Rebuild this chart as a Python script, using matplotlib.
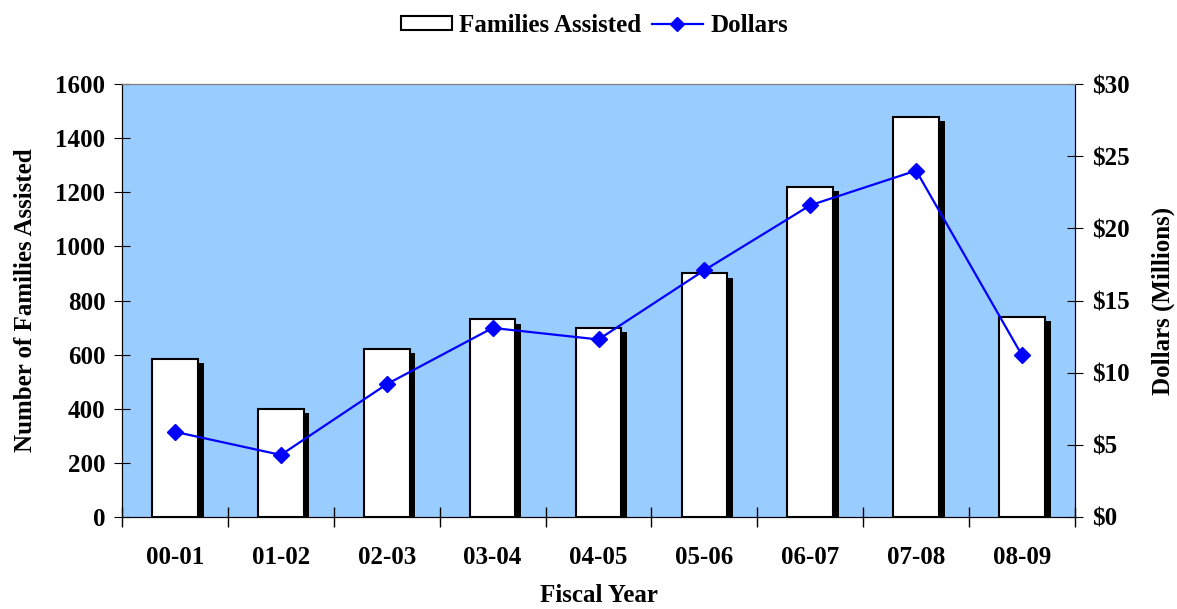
import numpy as np
import matplotlib.pyplot as plt
from matplotlib.lines import Line2D
from matplotlib.patches import Patch

years = ['00-01', '01-02', '02-03', '03-04', '04-05', '05-06', '06-07', '07-08', '08-09']
families = [585, 400, 620, 730, 700, 900, 1220, 1480, 740]
dollars = [5.9, 4.3, 9.2, 13.1, 12.3, 17.1, 21.6, 24.0, 11.2]

plt.rcParams['font.family'] = ['Liberation Serif', 'DejaVu Serif']
plt.rcParams['font.weight'] = 'bold'
fs = 18

fig = plt.figure(figsize=(11.77, 6.09), dpi=100)
ax = fig.add_axes([0.1037, 0.1511, 0.8096, 0.7109])
ax.set_facecolor('#99CCFF')

x = np.arange(len(years))
w = 0.43
# drop shadow behind each bar
ax.bar(x + 0.055, np.array(families) - 15, width=w, color='black', zorder=2)
ax.bar(x, families, width=w, color='white', edgecolor='black', linewidth=1.5, zorder=3)

ax.set_xlim(-0.5, len(years) - 0.5)
ax.set_ylim(0, 1600)
ax.set_yticks(range(0, 1601, 200))
ax.set_xticks(x)
ax.set_xticklabels(years)
ax.set_xticks(np.arange(-0.5, len(years)), minor=True)
ax.tick_params(axis='x', which='major', length=0, pad=21, labelsize=fs)
ax.tick_params(axis='x', which='minor', length=14, direction='inout', width=1)
ax.tick_params(axis='y', length=12, direction='inout', labelsize=fs, pad=6)
ax.set_xlabel('Fiscal Year', fontsize=fs, fontweight='bold', labelpad=11)
ax.set_ylabel('Number of Families Assisted', fontsize=fs, fontweight='bold', labelpad=13)
ax.spines['top'].set_color('#808080')

ax2 = ax.twinx()
ax2.plot(x, dollars, color='#0000FF', marker='D', markersize=8, linewidth=1.6, zorder=5)
ax2.set_ylim(0, 30)
ax2.set_yticks(range(0, 31, 5))
ax2.set_yticklabels(['$%d' % v for v in range(0, 31, 5)])
ax2.tick_params(axis='y', length=12, direction='inout', labelsize=fs, pad=6)
ax2.set_ylabel('Dollars (Millions)', fontsize=fs, fontweight='bold', labelpad=16)
ax2.spines['top'].set_color('#808080')

handles = [Patch(facecolor='white', edgecolor='black', linewidth=1.5),
           Line2D([], [], color='#0000FF', marker='D', markersize=7, linewidth=1.6)]
fig.legend(handles, ['Families Assisted', 'Dollars'], loc='center', bbox_to_anchor=(0.505, 0.958),
           ncol=2, frameon=False, prop={'size': fs, 'weight': 'bold'},
           handlelength=2.05, handleheight=0.5, handletextpad=0.3, columnspacing=0.4)

fig.savefig('out.png', dpi=100)
